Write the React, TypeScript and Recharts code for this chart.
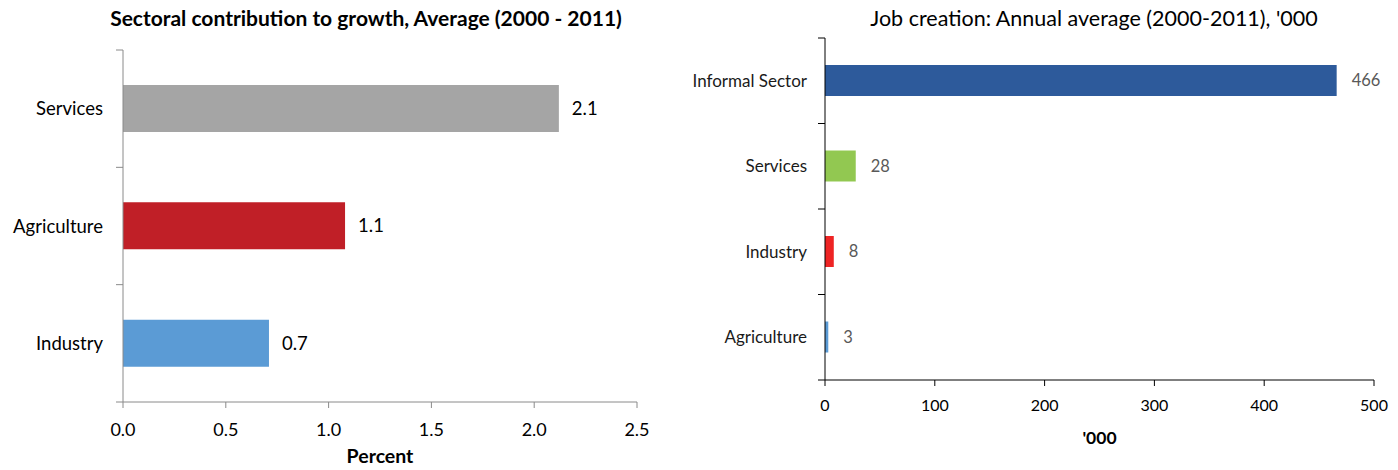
import React from 'react';
import { BarChart, Bar, XAxis, YAxis, Cell, LabelList } from 'recharts';

const growthCategories = ['Services', 'Agriculture', 'Industry'];
const growthValues = [2.12, 1.08, 0.71];
const growthColors = ['#A5A5A5', '#C01F27', '#5B9BD5'];
const growthTicks = [0, 0.5, 1.0, 1.5, 2.0, 2.5];

const jobCategories = ['Informal Sector', 'Services', 'Industry', 'Agriculture'];
const jobValues = [466, 28, 8, 3];
const jobColors = ['#2D5A9B', '#92C851', '#EE2424', '#5B9BD5'];
const jobTicks = [0, 100, 200, 300, 400, 500];

const growthData = growthCategories.map((name, i) => ({ name, value: growthValues[i] }));
const jobData = jobCategories.map((name, i) => ({ name, value: jobValues[i] }));

const FONT = 'Lato, "Open Sans", sans-serif';

function makeBandTick(margin: number, tickLen: number, stroke: string, fontSize: number, color: string) {
  return (props: any) => {
    const { x, y, payload, index, visibleTicksCount } = props;
    const ax = x + margin;
    const half = payload && typeof payload.offset === 'number' ? payload.offset : 0;
    const last = index === visibleTicksCount - 1;
    return (
      <g>
        <text x={x} y={y} dy="0.355em" textAnchor="end" fill={color} fontSize={fontSize} fontFamily={FONT}>
          {payload.value}
        </text>
        <line x1={ax - tickLen} x2={ax} y1={y - half} y2={y - half} stroke={stroke} />
        {last ? <line x1={ax - tickLen} x2={ax} y1={y + half} y2={y + half} stroke={stroke} /> : null}
      </g>
    );
  };
}

const leftTick = makeBandTick(20, 7, '#8A8A8A', 18.5, '#000');
const rightTick = makeBandTick(18, 7, '#000', 17, '#1a1a1a');

export default function App() {
  return (
    <div style={{ position: 'absolute', left: 0, top: 0, width: 1398, height: 470, background: '#fff', fontFamily: FONT }}>
      <div style={{ position: 'absolute', left: 0, top: 5, width: 732, textAlign: 'center', fontWeight: 700, fontSize: 21, lineHeight: '26px', color: '#000' }}>
        Sectoral contribution to growth, Average (2000 - 2011)
      </div>
      <div style={{ position: 'absolute', left: 694, top: 5, width: 800, textAlign: 'center', fontSize: 21.5, lineHeight: '26px', color: '#000' }}>
        Job creation: Annual average (2000-2011), '000
      </div>
      <div style={{ position: 'absolute', left: 0, top: 0 }}>
        <BarChart width={700} height={470} data={growthData} layout="vertical" margin={{ top: 50, right: 63, bottom: 2, left: 0 }}>
          <XAxis type="number" domain={[0, 2.5]} ticks={growthTicks} tickFormatter={(v: number) => v.toFixed(1)}
            stroke="#8A8A8A" tickSize={6} tickMargin={15} height={66}
            tick={{ fill: '#000', fontSize: 18, fontFamily: FONT }}
            label={{ value: 'Percent', position: 'insideBottom', offset: 5, fill: '#000', fontWeight: 700, fontSize: 19.5, fontFamily: FONT }} />
          <YAxis type="category" dataKey="name" width={123} stroke="#8A8A8A" tickLine={false} tickSize={0} tickMargin={20}
            tick={leftTick} />
          <Bar dataKey="value" barSize={47} isAnimationActive={false}>
            {growthData.map((d, i) => <Cell key={d.name} fill={growthColors[i]} />)}
            <LabelList dataKey="value" position="right" offset={13} formatter={(v: number) => v.toFixed(1)}
              style={{ fill: '#000', fontSize: 18.5, fontFamily: FONT }} />
          </Bar>
        </BarChart>
      </div>
      <div style={{ position: 'absolute', left: 690, top: 0 }}>
        <BarChart width={708} height={470} data={jobData} layout="vertical" margin={{ top: 38, right: 24, bottom: 26, left: 0 }}>
          <XAxis type="number" domain={[0, 500]} ticks={jobTicks}
            stroke="#000" tickSize={6} tickMargin={14} height={64}
            tick={{ fill: '#000', fontSize: 16, fontFamily: FONT }}
            label={{ value: "'000", position: 'insideBottom', offset: 0, fill: '#000', fontWeight: 700, fontSize: 17.5, fontFamily: FONT }} />
          <YAxis type="category" dataKey="name" width={135} stroke="#000" tickLine={false} tickSize={0} tickMargin={18}
            tick={rightTick} />
          <Bar dataKey="value" barSize={31} isAnimationActive={false}>
            {jobData.map((d, i) => <Cell key={d.name} fill={jobColors[i]} />)}
            <LabelList dataKey="value" position="right" offset={15}
              style={{ fill: '#595959', fontSize: 16.5, fontFamily: FONT }} />
          </Bar>
        </BarChart>
      </div>
    </div>
  );
}
